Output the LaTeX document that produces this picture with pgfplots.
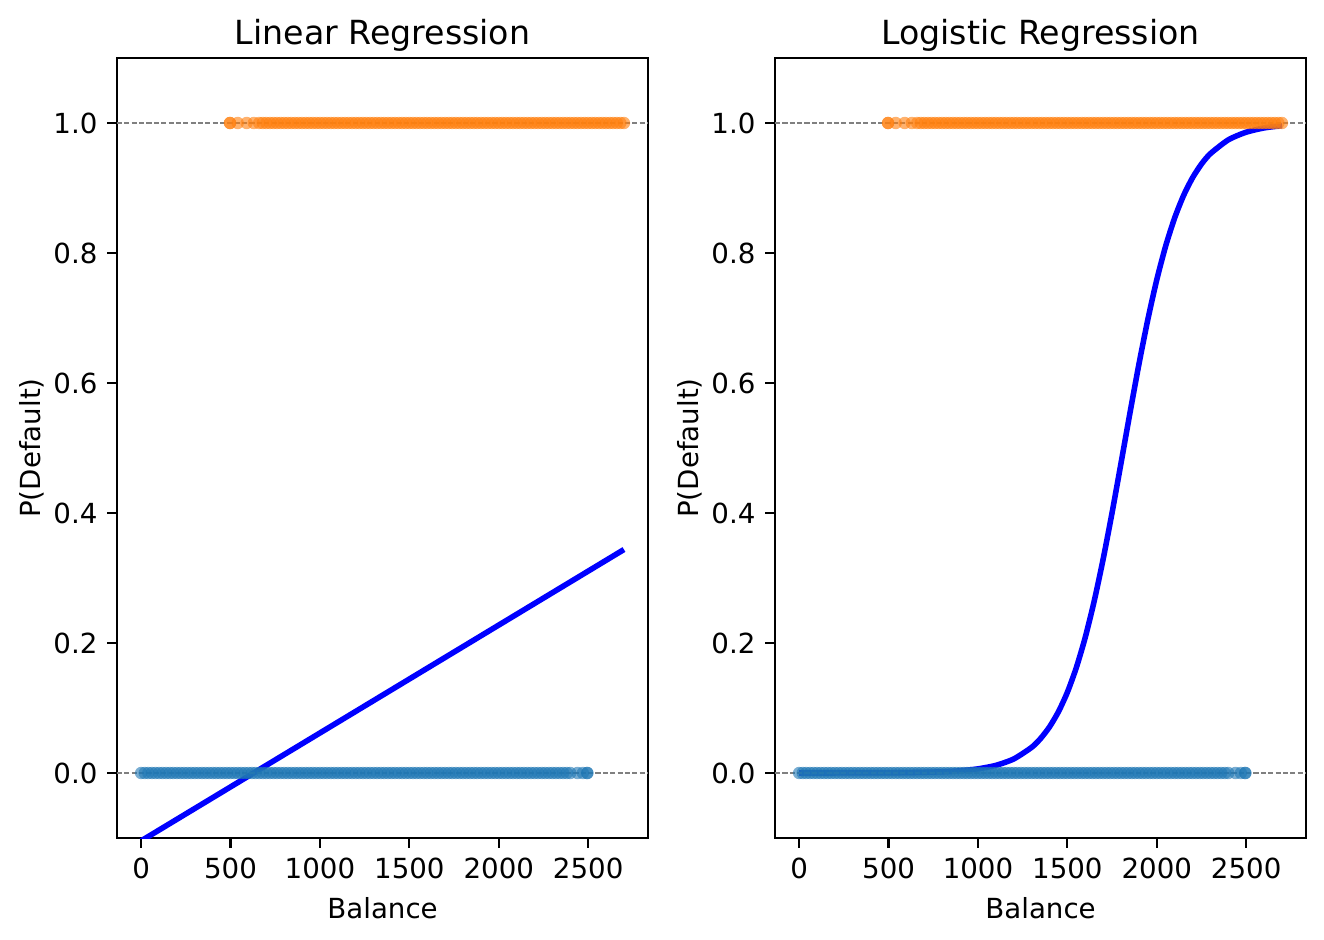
\documentclass[border=0pt]{standalone}
\usepackage{pgfplots}
\pgfplotsset{compat=1.18}
\usepackage{fontspec}
\setmainfont{DejaVu Sans}
\definecolor{mblue}{HTML}{1F77B4}
\definecolor{morange}{HTML}{FF7F0E}
\pgfplotsset{
  panel/.style={
    width=191.2bp, height=280.8bp, scale only axis,
    xmin=-135, xmax=2835, ymin=-0.1, ymax=1.1,
    xtick={0,500,1000,1500,2000,2500},
    ytick={0,0.2,0.4,0.6,0.8,1.0},
    xtick pos=lower, ytick pos=left,
    tick align=outside, major tick length=3.5bp,
    every tick/.style={black, line width=0.8bp},
    axis line style={line width=0.8bp},
    /pgf/number format/assume math mode=true,
    /pgf/number format/1000 sep={},
    yticklabel style={/pgf/number format/fixed, /pgf/number format/precision=1, /pgf/number format/fixed zerofill},
    tick label style={font=\fontsize{10}{12}\selectfont},
    label style={font=\fontsize{10}{12}\selectfont},
    title style={font=\fontsize{12}{14}\selectfont, yshift=-7pt},
    ylabel shift=-3.6bp,
    xlabel={Balance}, ylabel={P(Default)},
    clip=true,
  },
  hl/.style={gray, line width=0.5bp, dash pattern=on 1.85bp off 0.8bp, forget plot},
  scb/.style={only marks, mark=*, mark size=2.24bp, color=mblue, draw opacity=0, fill opacity=0.6,
     mark options={draw=none, fill=mblue, fill opacity=0.6, draw opacity=0, line width=0pt}},
  sco/.style={only marks, mark=*, mark size=2.24bp, color=morange, draw opacity=0, fill opacity=0.6,
     mark options={draw=none, fill=morange, fill opacity=0.6, draw opacity=0, line width=0pt}},
}
\newcommand{\bluepts}{(0,0) (20,0) (40,0) (60,0) (80,0) (100,0) (120,0) (140,0) (160,0) (180,0)
 (200,0) (220,0) (240,0) (260,0) (280,0) (300,0) (320,0) (340,0) (360,0) (380,0)
 (400,0) (420,0) (440,0) (460,0) (480,0) (500,0) (520,0) (540,0) (560,0) (580,0)
 (600,0) (620,0) (640,0) (660,0) (680,0) (700,0) (720,0) (740,0) (760,0) (780,0)
 (800,0) (820,0) (840,0) (860,0) (880,0) (900,0) (920,0) (940,0) (960,0) (980,0)
 (1000,0) (1020,0) (1040,0) (1060,0) (1080,0) (1100,0) (1120,0) (1140,0) (1160,0) (1180,0)
 (1200,0) (1220,0) (1240,0) (1260,0) (1280,0) (1300,0) (1320,0) (1340,0) (1360,0) (1380,0)
 (1400,0) (1420,0) (1440,0) (1460,0) (1480,0) (1500,0) (1520,0) (1540,0) (1560,0) (1580,0)
 (1600,0) (1620,0) (1640,0) (1660,0) (1680,0) (1700,0) (1720,0) (1740,0) (1760,0) (1780,0)
 (1800,0) (1820,0) (1840,0) (1860,0) (1880,0) (1900,0) (1920,0) (1940,0) (1960,0) (1980,0)
 (2000,0) (2020,0) (2040,0) (2060,0) (2080,0) (2100,0) (2120,0) (2140,0) (2160,0) (2180,0)
 (2200,0) (2220,0) (2240,0) (2260,0) (2280,0) (2300,0) (2320,0) (2340,0) (2360,0) (2380,0)
 (2400,0) (2440,0) (2470,0) (2495,0) (2495,0)}
\newcommand{\orangepts}{(497,1) (497,1) (540,1) (590,1) (630,1) (660,1)
 (680,1) (700,1) (720,1) (740,1) (760,1) (780,1)
 (800,1) (820,1) (840,1) (860,1) (880,1) (900,1) (920,1) (940,1) (960,1) (980,1)
 (1000,1) (1020,1) (1040,1) (1060,1) (1080,1) (1100,1) (1120,1) (1140,1) (1160,1) (1180,1)
 (1200,1) (1220,1) (1240,1) (1260,1) (1280,1) (1300,1) (1320,1) (1340,1) (1360,1) (1380,1)
 (1400,1) (1420,1) (1440,1) (1460,1) (1480,1) (1500,1) (1520,1) (1540,1) (1560,1) (1580,1)
 (1600,1) (1620,1) (1640,1) (1660,1) (1680,1) (1700,1) (1720,1) (1740,1) (1760,1) (1780,1)
 (1800,1) (1820,1) (1840,1) (1860,1) (1880,1) (1900,1) (1920,1) (1940,1) (1960,1) (1980,1)
 (2000,1) (2020,1) (2040,1) (2060,1) (2080,1) (2100,1) (2120,1) (2140,1) (2160,1) (2180,1)
 (2200,1) (2220,1) (2240,1) (2260,1) (2280,1) (2300,1) (2320,1) (2340,1) (2360,1) (2380,1)
 (2400,1) (2420,1) (2440,1) (2460,1) (2480,1) (2500,1) (2520,1) (2540,1) (2560,1) (2580,1)
 (2600,1) (2620,1) (2640,1) (2660,1) (2680,1) (2700,1)}
\begin{document}
\begin{tikzpicture}
\begin{axis}[panel, name=L, at={(0,0)}, anchor=south west, title={Linear Regression}]
  \addplot[scb] coordinates {\bluepts};
  \addplot[sco] coordinates {\orangepts};
  \addplot[blue, line width=2bp, no marks] coordinates {(0,-0.1044) (2700,0.3438)};
  \addplot[hl] coordinates {(-135,0) (2835,0)};
  \addplot[hl] coordinates {(-135,1) (2835,1)};
\end{axis}
\begin{axis}[panel, name=R, at={(236.88bp,0)}, anchor=south west, title={Logistic Regression}]
  \addplot[scb] coordinates {\bluepts};
  \addplot[sco] coordinates {\orangepts};
  \addplot[blue, line width=2bp, no marks, smooth, tension=0.4] coordinates {
    (0,0.000013) (200,0.000045) (400,0.000155) (600,0.000535) (800,0.00185)
    (900,0.00343) (1000,0.00635) (1100,0.01174) (1200,0.0216) (1300,0.03943)
    (1350,0.053) (1400,0.07089) (1450,0.0942) (1500,0.1242) (1550,0.1621)
    (1600,0.2087) (1650,0.2645) (1700,0.329) (1750,0.4006) (1800,0.4768)
    (1850,0.554) (1900,0.6288) (1950,0.6978) (2000,0.759) (2050,0.8111)
    (2100,0.8541) (2150,0.8886) (2200,0.9158) (2250,0.9369) (2300,0.9529)
    (2400,0.9741) (2500,0.9859) (2600,0.9924) (2700,0.9959)};
  \addplot[hl] coordinates {(-135,0) (2835,0)};
  \addplot[hl] coordinates {(-135,1) (2835,1)};
\end{axis}
\pgfresetboundingbox
\path[use as bounding box] ([shift={(-42.12bp,-36.72bp)}]L.south west) rectangle ([shift={(434.52bp,301.68bp)}]L.south west);
\end{tikzpicture}
\end{document}
